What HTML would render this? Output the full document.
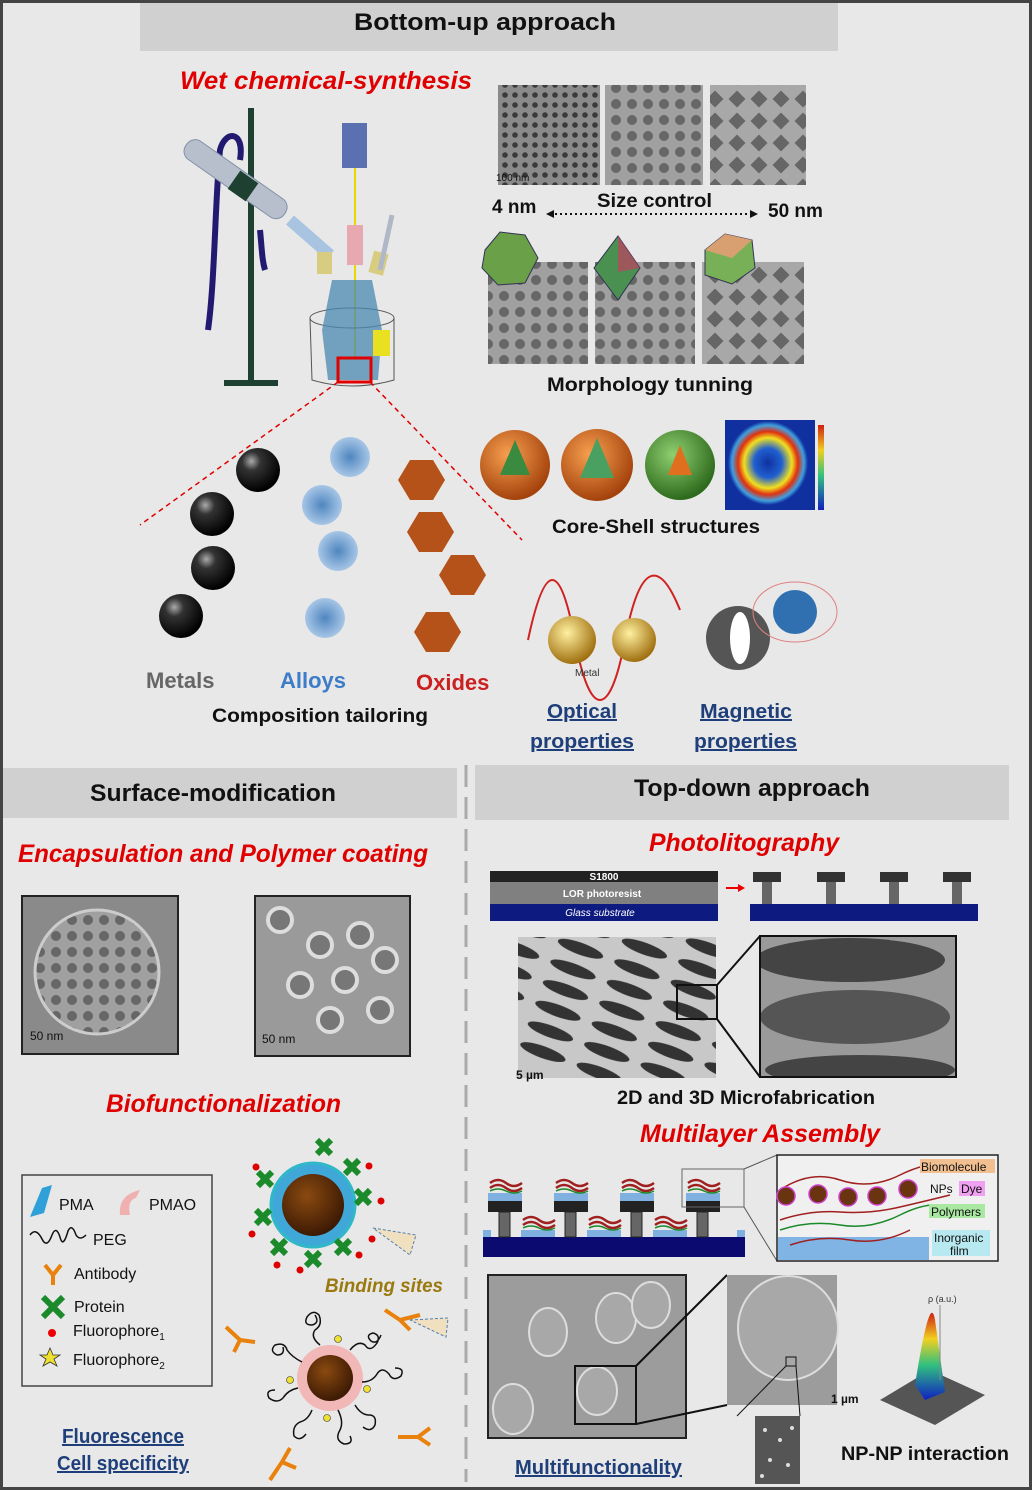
<!DOCTYPE html>
<html><head><meta charset="utf-8"><style>
html,body{margin:0;padding:0;background:#e8e8e8}
svg{display:block}
text{font-family:"Liberation Sans",sans-serif}
.h{font-weight:bold;font-size:24px;fill:#111}
.r{font-weight:bold;font-style:italic;font-size:25px;fill:#e00000}
.b{font-weight:bold;font-size:19px;fill:#111}
.u{font-weight:bold;font-size:20px;fill:#1f3f7a;text-decoration:underline}
.l{font-size:16px;fill:#111}
</style></head><body>
<svg width="1032" height="1490" viewBox="0 0 1032 1490" xmlns="http://www.w3.org/2000/svg">
<defs>
<radialGradient id="blk" cx="35%" cy="30%" r="70%"><stop offset="0" stop-color="#aaa"/><stop offset=".3" stop-color="#333"/><stop offset="1" stop-color="#000"/></radialGradient>
<radialGradient id="blu" cx="50%" cy="50%" r="50%"><stop offset="0" stop-color="#4f86c0"/><stop offset="1" stop-color="#a7c6e6"/></radialGradient>
<radialGradient id="brn" cx="40%" cy="35%" r="65%"><stop offset="0" stop-color="#8a4a10"/><stop offset="1" stop-color="#3d1a04"/></radialGradient>
<radialGradient id="org" cx="40%" cy="35%" r="65%"><stop offset="0" stop-color="#f7a050"/><stop offset="1" stop-color="#a4420c"/></radialGradient>
<radialGradient id="grn" cx="40%" cy="35%" r="65%"><stop offset="0" stop-color="#8fd070"/><stop offset="1" stop-color="#2d6a1c"/></radialGradient>
<radialGradient id="heat" cx="50%" cy="50%" r="50%"><stop offset="0" stop-color="#1030a0"/><stop offset=".35" stop-color="#2060d0"/><stop offset=".6" stop-color="#f0e020"/><stop offset=".75" stop-color="#e03010"/><stop offset=".9" stop-color="#40a0e0"/><stop offset="1" stop-color="#1030a0"/></radialGradient>
<radialGradient id="gold" cx="40%" cy="35%" r="65%"><stop offset="0" stop-color="#fff0a0"/><stop offset="1" stop-color="#a07010"/></radialGradient>
<linearGradient id="peak" x1="0" y1="0" x2="0" y2="1"><stop offset="0" stop-color="#d02010"/><stop offset=".3" stop-color="#f0d020"/><stop offset=".6" stop-color="#30c080"/><stop offset="1" stop-color="#1020c0"/></linearGradient>
<pattern id="tem" width="10" height="10" patternUnits="userSpaceOnUse"><rect width="10" height="10" fill="#8a8a8a"/><circle cx="5" cy="5" r="2.8" fill="#3a3a3a"/></pattern>
<pattern id="tem2" width="16" height="16" patternUnits="userSpaceOnUse"><rect width="16" height="16" fill="#a0a0a0"/><circle cx="8" cy="8" r="5" fill="#666"/></pattern>
<pattern id="tem3" width="22" height="22" patternUnits="userSpaceOnUse"><rect width="22" height="22" fill="#a8a8a8"/><rect x="5" y="5" width="12" height="12" fill="#666" transform="rotate(45 11 11)"/></pattern>
<pattern id="stripe" width="60" height="22" patternUnits="userSpaceOnUse" patternTransform="rotate(20)"><rect width="60" height="22" fill="#c8c8c8"/><ellipse cx="30" cy="11" rx="24" ry="6" fill="#333"/></pattern>
</defs>
<rect x="0" y="0" width="1032" height="1490" fill="#e8e8e8"/>
<rect x="1.5" y="1.5" width="1029" height="1487" fill="none" stroke="#444" stroke-width="3"/>

<rect x="140" y="3" width="698" height="48" fill="#d0d0d0"/>
<text x="485" y="30" class="h" text-anchor="middle" textLength="262" lengthAdjust="spacingAndGlyphs">Bottom-up approach</text>
<text x="180" y="89" class="r" textLength="292" lengthAdjust="spacingAndGlyphs">Wet chemical-synthesis</text>

<rect x="248" y="108" width="6" height="275" fill="#1e4030"/>
<rect x="224" y="380" width="54" height="6" fill="#1e4030"/>
<path d="M208 330 C215 280 215 200 220 150 C225 130 245 130 240 160" fill="none" stroke="#221a70" stroke-width="6"/>
<path d="M260 230 C262 250 262 260 265 270" fill="none" stroke="#221a70" stroke-width="6"/>
<g transform="rotate(35 235 180)"><rect x="175" y="168" width="120" height="22" rx="10" fill="#b8bfcc" stroke="#8090a8"/></g>
<path d="M290 220 L330 255" stroke="#a8c4e0" stroke-width="12"/>
<rect x="232" y="175" width="22" height="22" fill="#1e4030" transform="rotate(35 243 186)"/>
<rect x="342" y="123" width="25" height="45" fill="#5a70b0"/>
<line x1="355" y1="168" x2="355" y2="360" stroke="#e8d800" stroke-width="2"/>
<rect x="347" y="225" width="16" height="40" fill="#e8a8b0"/>
<rect x="317" y="252" width="15" height="22" fill="#d8cc80"/>
<rect x="371" y="252" width="15" height="22" fill="#d8cc80" transform="rotate(15 378 263)"/>
<path d="M380 270 L392 215" stroke="#b0b8c8" stroke-width="5"/>
<ellipse cx="352" cy="318" rx="42" ry="10" fill="none" stroke="#555"/>
<path d="M310 318 L312 380 Q352 392 394 380 L394 318" fill="none" stroke="#555"/>
<path d="M322 330 L332 280 L372 280 L382 330 L378 380 L328 380Z" fill="#4a8ab0" opacity=".75"/>
<rect x="373" y="330" width="17" height="26" fill="#e8e020"/>
<rect x="338" y="358" width="33" height="24" fill="none" stroke="#e00000" stroke-width="3"/>
<line x1="338" y1="382" x2="140" y2="525" stroke="#e00000" stroke-width="1.5" stroke-dasharray="5,4"/>
<line x1="370" y1="382" x2="522" y2="540" stroke="#e00000" stroke-width="1.5" stroke-dasharray="5,4"/>

<rect x="498" y="85" width="102" height="100" fill="url(#tem)"/>
<rect x="605" y="85" width="98" height="100" fill="url(#tem2)"/>
<rect x="710" y="85" width="96" height="100" fill="url(#tem3)"/>
<text x="496" y="181" font-size="10" fill="#111">100 nm</text>
<text x="492" y="213" class="b" font-size="17">4 nm</text>
<text x="597" y="207" class="b" textLength="115" lengthAdjust="spacingAndGlyphs">Size control</text>
<text x="768" y="217" class="b" font-size="17">50 nm</text>
<line x1="550" y1="214" x2="754" y2="214" stroke="#111" stroke-width="2" stroke-dasharray="2,3"/>
<path d="M546 214 l8 -4 v8z M758 214 l-8 -4 v8z" fill="#111"/>

<rect x="488" y="262" width="100" height="102" fill="url(#tem2)"/>
<rect x="595" y="262" width="100" height="102" fill="url(#tem2)"/>
<rect x="702" y="262" width="102" height="102" fill="url(#tem3)"/>
<polygon points="485,250 500,232 525,235 538,258 525,283 498,285 482,268" fill="#6aa048" stroke="#335"/>
<polygon points="618,236 640,268 618,300 594,268" fill="#4a9050" stroke="#335"/>
<polygon points="618,236 640,268 618,272" fill="#c04060" opacity=".7"/>
<polygon points="705,250 725,234 752,240 755,268 732,284 705,275" fill="#78b058" stroke="#335"/>
<polygon points="725,234 752,240 732,258 705,250" fill="#d8a070"/>
<text x="547" y="391" class="b" textLength="206" lengthAdjust="spacingAndGlyphs">Morphology tunning</text>

<circle cx="515" cy="465" r="35" fill="url(#org)"/><polygon points="515,440 500,475 530,475" fill="#3a8a40"/>
<circle cx="597" cy="465" r="36" fill="url(#org)"/><polygon points="597,438 580,478 614,478" fill="#4aa060"/>
<circle cx="680" cy="465" r="35" fill="url(#grn)"/><polygon points="680,445 668,475 692,475" fill="#e07020"/>
<rect x="725" y="420" width="90" height="90" fill="#1030a0"/>
<ellipse cx="768" cy="463" rx="40" ry="42" fill="url(#heat)"/>
<rect x="818" y="425" width="6" height="85" fill="url(#peak)"/>
<text x="552" y="533" class="b" textLength="208" lengthAdjust="spacingAndGlyphs">Core-Shell structures</text>

<g fill="url(#blk)"><circle cx="258" cy="470" r="22"/><circle cx="212" cy="514" r="22"/><circle cx="213" cy="568" r="22"/><circle cx="181" cy="616" r="22"/></g>
<g fill="url(#blu)"><circle cx="350" cy="457" r="20"/><circle cx="322" cy="505" r="20"/><circle cx="338" cy="551" r="20"/><circle cx="325" cy="618" r="20"/></g>
<g fill="#b4521a">
<polygon points="398,480 410,460 433,460 445,480 433,500 410,500"/>
<polygon points="407,532 419,512 442,512 454,532 442,552 419,552"/>
<polygon points="439,575 451,555 474,555 486,575 474,595 451,595"/>
<polygon points="414,632 426,612 449,612 461,632 449,652 426,652"/>
</g>
<text x="146" y="688" font-size="22" font-weight="bold" fill="#666">Metals</text>
<text x="280" y="688" font-size="22" font-weight="bold" fill="#3d7cc9">Alloys</text>
<text x="416" y="690" font-size="22" font-weight="bold" fill="#cc1f1f">Oxides</text>
<text x="212" y="722" class="b" textLength="216" lengthAdjust="spacingAndGlyphs">Composition tailoring</text>

<path d="M528 640 C545 560 560 560 575 640 S 610 720 625 640 S 660 560 680 610" fill="none" stroke="#d02020" stroke-width="2"/>
<circle cx="572" cy="640" r="24" fill="url(#gold)"/><circle cx="634" cy="640" r="22" fill="url(#gold)"/>
<text x="575" y="676" font-size="10" fill="#333">Metal</text>
<circle cx="738" cy="638" r="32" fill="#555"/><ellipse cx="740" cy="638" rx="10" ry="26" fill="#fff"/>
<circle cx="795" cy="612" r="22" fill="#3070b0"/><ellipse cx="795" cy="612" rx="42" ry="30" fill="none" stroke="#e08080"/>
<text x="547" y="718" class="u" textLength="70" lengthAdjust="spacingAndGlyphs">Optical</text>
<text x="530" y="748" class="u" textLength="104" lengthAdjust="spacingAndGlyphs">properties</text>
<text x="700" y="718" class="u" textLength="92" lengthAdjust="spacingAndGlyphs">Magnetic</text>
<text x="694" y="748" class="u" textLength="103" lengthAdjust="spacingAndGlyphs">properties</text>

<rect x="3" y="768" width="454" height="50" fill="#d0d0d0"/>
<text x="213" y="801" class="h" text-anchor="middle" textLength="246" lengthAdjust="spacingAndGlyphs">Surface-modification</text>
<rect x="475" y="765" width="534" height="55" fill="#d0d0d0"/>
<text x="752" y="796" class="h" text-anchor="middle" textLength="236" lengthAdjust="spacingAndGlyphs">Top-down approach</text>
<line x1="466" y1="765" x2="466" y2="1482" stroke="#aaa" stroke-width="3" stroke-dasharray="22,10"/>

<text x="18" y="862" class="r" textLength="410" lengthAdjust="spacingAndGlyphs">Encapsulation and Polymer coating</text>
<rect x="22" y="896" width="156" height="158" fill="#8a8a8a" stroke="#222" stroke-width="2"/>
<circle cx="97" cy="972" r="62" fill="url(#tem2)" stroke="#ccc" stroke-width="3"/>
<text x="30" y="1040" font-size="12" fill="#111">50 nm</text>
<rect x="255" y="896" width="155" height="160" fill="#9a9a9a" stroke="#222" stroke-width="2"/>
<g fill="#777" stroke="#ddd" stroke-width="4"><circle cx="280" cy="920" r="12"/><circle cx="320" cy="945" r="12"/><circle cx="360" cy="935" r="12"/><circle cx="300" cy="985" r="12"/><circle cx="345" cy="980" r="12"/><circle cx="385" cy="960" r="12"/><circle cx="330" cy="1020" r="12"/><circle cx="380" cy="1010" r="12"/></g>
<text x="262" y="1043" font-size="12" fill="#111">50 nm</text>
<text x="106" y="1112" class="r" textLength="235" lengthAdjust="spacingAndGlyphs">Biofunctionalization</text>

<rect x="22" y="1175" width="190" height="211" fill="none" stroke="#444" stroke-width="1.5"/>
<path d="M30 1217 L42 1188 L52 1185 L44 1213Z" fill="#30a0d8"/>
<text x="59" y="1210" class="l">PMA</text>
<path d="M120 1215 Q118 1195 140 1190 L136 1198 Q127 1200 130 1215Z" fill="#f0b0b0"/>
<text x="149" y="1210" class="l">PMAO</text>
<path d="M30 1235 q6 -8 12 4 q5 10 10 -4 q4 -10 8 2 q3 12 8 -6 q4 -8 8 4 q4 6 10 0" fill="none" stroke="#111" stroke-width="1.5"/>
<text x="93" y="1245" class="l">PEG</text>
<path d="M45 1265 L53 1275 L61 1265 M53 1275 L53 1285" stroke="#e8820c" stroke-width="4" fill="none"/>
<text x="74" y="1279" class="l">Antibody</text>
<path d="M43 1297 L63 1317 M63 1297 L43 1317" stroke="#1a8a2a" stroke-width="6"/>
<text x="74" y="1312" class="l">Protein</text>
<circle cx="52" cy="1333" r="4" fill="#e00"/>
<text x="73" y="1336" class="l">Fluorophore<tspan font-size="10" dy="4">1</tspan></text>
<polygon points="50,1348 53,1355 60,1355 54,1359 57,1366 50,1362 43,1366 46,1359 40,1355 47,1355" fill="#f0e030" stroke="#333" stroke-width=".8"/>
<text x="73" y="1365" class="l">Fluorophore<tspan font-size="10" dy="4">2</tspan></text>
<text x="62" y="1443" class="u" textLength="122" lengthAdjust="spacingAndGlyphs">Fluorescence</text>
<text x="57" y="1470" class="u" textLength="132" lengthAdjust="spacingAndGlyphs">Cell specificity</text>

<circle cx="313" cy="1205" r="42" fill="#40a8d8" stroke="#30b8c8" stroke-width="3"/>
<circle cx="313" cy="1205" r="31" fill="url(#brn)"/>
<g stroke="#1a8a2a" stroke-width="6">
<path d="M258 1172 l14 14 M272 1172 l-14 14"/><path d="M317 1140 l14 14 M331 1140 l-14 14"/><path d="M345 1160 l14 14 M359 1160 l-14 14"/>
<path d="M356 1190 l14 14 M370 1190 l-14 14"/><path d="M256 1210 l14 14 M270 1210 l-14 14"/><path d="M272 1240 l14 14 M286 1240 l-14 14"/>
<path d="M306 1252 l14 14 M320 1252 l-14 14"/><path d="M336 1240 l14 14 M350 1240 l-14 14"/></g>
<g fill="#d00"><circle cx="256" cy="1167" r="3.5"/><circle cx="369" cy="1166" r="3.5"/><circle cx="381" cy="1201" r="3.5"/><circle cx="372" cy="1239" r="3.5"/><circle cx="252" cy="1234" r="3.5"/><circle cx="359" cy="1255" r="3.5"/><circle cx="277" cy="1265" r="3.5"/><circle cx="300" cy="1270" r="3.5"/></g>
<polygon points="373,1228 416,1235 410,1255" fill="#f0e0c0" stroke="#5080b0" stroke-dasharray="3,2"/>
<text x="325" y="1292" font-size="19" font-weight="bold" font-style="italic" fill="#9a7a10" textLength="118" lengthAdjust="spacingAndGlyphs">Binding sites</text>

<circle cx="330" cy="1378" r="33" fill="#f2b8b8"/>
<circle cx="330" cy="1378" r="23" fill="url(#brn)"/>
<g fill="none" stroke="#111" stroke-width="1.5">
<path d="M320 1345 q-10 -8 -5 -15 q8 -5 4 -15 q-6 -6 -12 2 q-4 8 5 8 q8 -2 3 -10"/>
<path d="M350 1350 q8 -10 15 -5 q5 8 12 -2 q4 -8 -4 -10 q-8 2 -2 8 q6 4 10 -6"/>
<path d="M302 1362 q-10 -5 -15 -12 q-2 -8 -12 -5 q-6 6 2 10 q8 0 6 -8"/>
<path d="M362 1382 q10 0 15 -8 q5 -8 12 0 q4 8 12 2 q4 -8 -6 -8"/>
<path d="M298 1388 q-10 2 -15 10 q-6 6 -14 0 q-4 -8 6 -8"/>
<path d="M355 1405 q6 10 14 10 q8 0 6 10 q-4 8 -12 2"/>
<path d="M312 1410 q-4 10 -12 12 q-8 4 -6 14 q6 6 12 -2"/>
<path d="M338 1410 q6 12 2 20 q-6 10 4 14 q10 0 6 -8"/>
</g>
<g stroke="#e8820c" stroke-width="4" fill="none">
<path d="M226 1327 L240 1340 L234 1352 M240 1340 L255 1342"/>
<path d="M385 1310 L400 1320 L420 1315 M400 1320 L410 1330"/>
<path d="M398 1437 L418 1437 L430 1428 M418 1437 L430 1445"/>
<path d="M270 1480 L282 1462 L290 1448 M282 1462 L296 1468"/>
</g>
<polygon points="410,1320 448,1318 446,1337" fill="#f0e0c0" stroke="#5080b0" stroke-dasharray="3,2"/>
<g fill="#f0e030" stroke="#333" stroke-width=".6"><circle cx="338" cy="1339" r="3.5"/><circle cx="290" cy="1380" r="3.5"/><circle cx="367" cy="1389" r="3.5"/><circle cx="327" cy="1418" r="3.5"/></g>

<text x="649" y="851" class="r" textLength="190" lengthAdjust="spacingAndGlyphs">Photolitography</text>
<rect x="490" y="871" width="228" height="11" fill="#222"/>
<text x="604" y="880" font-size="10" fill="#fff" font-weight="bold" text-anchor="middle">S1800</text>
<rect x="490" y="882" width="228" height="22" fill="#808080"/>
<text x="602" y="897" font-size="10" fill="#fff" font-weight="bold" text-anchor="middle">LOR photoresist</text>
<rect x="490" y="904" width="228" height="17" fill="#0d1a80"/>
<text x="600" y="916" font-size="10" fill="#fff" font-style="italic" text-anchor="middle">Glass substrate</text>
<path d="M726 888 h14" stroke="#e00" stroke-width="2"/><path d="M745 888 l-7 -4 v8z" fill="#e00"/>
<rect x="750" y="904" width="228" height="17" fill="#0d1a80"/>
<g fill="#333"><rect x="753" y="872" width="28" height="10"/><rect x="762" y="882" width="10" height="22" fill="#666"/>
<rect x="817" y="872" width="28" height="10"/><rect x="826" y="882" width="10" height="22" fill="#666"/>
<rect x="880" y="872" width="28" height="10"/><rect x="889" y="882" width="10" height="22" fill="#666"/>
<rect x="943" y="872" width="28" height="10"/><rect x="952" y="882" width="10" height="22" fill="#666"/></g>
<rect x="518" y="937" width="198" height="141" fill="url(#stripe)"/>
<rect x="518" y="1062" width="45" height="16" fill="#c8c8c8"/><text x="516" y="1079" font-size="12" fill="#111" font-weight="bold">5 µm</text>
<rect x="677" y="985" width="40" height="34" fill="none" stroke="#111" stroke-width="2"/>
<line x1="717" y1="985" x2="760" y2="936" stroke="#111" stroke-width="2"/>
<line x1="717" y1="1019" x2="760" y2="1077" stroke="#111" stroke-width="2"/>
<svg x="760" y="936" width="196" height="141"><rect width="196" height="141" fill="#9a9a9a"/>
<ellipse cx="90" cy="24" rx="95" ry="22" fill="#444"/>
<ellipse cx="95" cy="81" rx="95" ry="27" fill="#555"/>
<ellipse cx="100" cy="134" rx="95" ry="15" fill="#444"/></svg>
<rect x="760" y="936" width="196" height="141" fill="none" stroke="#111" stroke-width="2"/>
<text x="617" y="1104" class="b" textLength="258" lengthAdjust="spacingAndGlyphs">2D and 3D Microfabrication</text>

<text x="640" y="1142" class="r" textLength="240" lengthAdjust="spacingAndGlyphs">Multilayer Assembly</text>
<rect x="483" y="1237" width="262" height="20" fill="#0a0a70"/>
<g fill="#80b0e0"><rect x="483" y="1230" width="8" height="7"/><rect x="521" y="1230" width="34" height="7"/><rect x="587" y="1230" width="34" height="7"/><rect x="653" y="1230" width="34" height="7"/><rect x="737" y="1230" width="8" height="7"/>
<rect x="488" y="1193" width="34" height="8"/><rect x="554" y="1193" width="34" height="8"/><rect x="620" y="1193" width="34" height="8"/><rect x="686" y="1193" width="34" height="8"/></g>
<g fill="#222"><rect x="488" y="1201" width="34" height="11"/><rect x="554" y="1201" width="34" height="11"/><rect x="620" y="1201" width="34" height="11"/><rect x="686" y="1201" width="34" height="11"/></g>
<g fill="#666" stroke="#222"><rect x="499" y="1212" width="11" height="25"/><rect x="565" y="1212" width="11" height="25"/><rect x="631" y="1212" width="11" height="25"/><rect x="697" y="1212" width="11" height="25"/></g>
<g fill="none" stroke="#a02020" stroke-width="2.5">
<path d="M490 1183 q8 -6 16 0 t16 0 M490 1188 q8 -6 16 0 t16 0"/><path d="M556 1183 q8 -6 16 0 t16 0 M556 1188 q8 -6 16 0 t16 0"/><path d="M622 1183 q8 -6 16 0 t16 0 M622 1188 q8 -6 16 0 t16 0"/><path d="M688 1183 q8 -6 16 0 t16 0 M688 1188 q8 -6 16 0 t16 0"/>
<path d="M523 1220 q8 -6 16 0 t16 0 M523 1225 q8 -6 16 0 t16 0"/><path d="M589 1220 q8 -6 16 0 t16 0 M589 1225 q8 -6 16 0 t16 0"/><path d="M655 1220 q8 -6 16 0 t16 0 M655 1225 q8 -6 16 0 t16 0"/></g>
<g fill="none" stroke="#1a8a2a" stroke-width="1.5">
<path d="M490 1191 q8 -4 16 0 t16 0"/><path d="M556 1191 q8 -4 16 0 t16 0"/><path d="M622 1191 q8 -4 16 0 t16 0"/><path d="M688 1191 q8 -4 16 0 t16 0"/>
<path d="M523 1228 q8 -4 16 0 t16 0"/><path d="M589 1228 q8 -4 16 0 t16 0"/><path d="M655 1228 q8 -4 16 0 t16 0"/></g>
<rect x="682" y="1169" width="62" height="38" fill="none" stroke="#666"/>
<line x1="744" y1="1169" x2="777" y2="1155" stroke="#555"/><line x1="744" y1="1207" x2="777" y2="1261" stroke="#555"/>
<rect x="777" y="1155" width="221" height="106" fill="#f0f0f0" stroke="#222" stroke-width="1.5"/>
<rect x="778" y="1237" width="151" height="23" fill="#80b4e4"/>
<g fill="none" stroke="#a02020" stroke-width="1.5"><path d="M780 1190 q30 -20 60 -10 t60 -5 t60 -12"/><path d="M780 1220 q30 -10 60 -8 t60 -5 t50 -12"/><path d="M790 1245 q30 -10 60 -5 t60 -10"/></g>
<path d="M780 1230 q30 -10 60 -5 t60 -10 t50 -8" fill="none" stroke="#1a8a2a" stroke-width="1.5"/>
<g fill="#6a3410" stroke="#d040d0" stroke-width="1.5"><circle cx="786" cy="1196" r="9"/><circle cx="818" cy="1194" r="9"/><circle cx="848" cy="1197" r="9"/><circle cx="877" cy="1196" r="9"/><circle cx="908" cy="1189" r="9"/></g>
<rect x="920" y="1159" width="75" height="14" fill="#f2c090"/>
<text x="921" y="1171" font-size="12" fill="#111">Biomolecule</text>
<text x="930" y="1193" font-size="12" fill="#111">NPs</text>
<rect x="959" y="1181" width="26" height="15" fill="#f0a0f0"/><text x="961" y="1193" font-size="12" fill="#111">Dye</text>
<rect x="929" y="1204" width="56" height="14" fill="#a8e8a0"/><text x="931" y="1216" font-size="12" fill="#111">Polymers</text>
<rect x="932" y="1230" width="58" height="26" fill="#b8e8f0"/>
<text x="934" y="1242" font-size="12" fill="#111">Inorganic</text><text x="950" y="1255" font-size="12" fill="#111">film</text>

<rect x="488" y="1275" width="198" height="163" fill="#9c9c9c" stroke="#222" stroke-width="2"/>
<g fill="#a8a8a8" stroke="#ddd" stroke-width="2"><ellipse cx="548" cy="1332" rx="19" ry="24"/><ellipse cx="616" cy="1318" rx="20" ry="25"/><ellipse cx="651" cy="1305" rx="19" ry="23"/><ellipse cx="597" cy="1391" rx="20" ry="24"/><ellipse cx="513" cy="1409" rx="20" ry="25"/></g>
<rect x="575" y="1366" width="61" height="58" fill="none" stroke="#111" stroke-width="2"/>
<line x1="636" y1="1366" x2="727" y2="1275" stroke="#111" stroke-width="2"/><line x1="636" y1="1424" x2="727" y2="1405" stroke="#111" stroke-width="2"/>
<rect x="727" y="1275" width="110" height="130" fill="#9c9c9c"/>
<ellipse cx="788" cy="1328" rx="50" ry="52" fill="#a8a8a8" stroke="#ddd" stroke-width="2"/>
<rect x="786" y="1357" width="10" height="9" fill="none" stroke="#111"/>
<line x1="786" y1="1366" x2="737" y2="1416" stroke="#111"/><line x1="796" y1="1366" x2="800" y2="1416" stroke="#111"/>
<text x="831" y="1403" font-size="12" fill="#111" font-weight="bold">1 µm</text>
<rect x="755" y="1416" width="45" height="68" fill="#555"/>
<g fill="#ddd"><circle cx="765" cy="1430" r="2"/><circle cx="780" cy="1440" r="2"/><circle cx="792" cy="1428" r="2"/><circle cx="770" cy="1460" r="2"/><circle cx="788" cy="1465" r="2"/><circle cx="762" cy="1476" r="2"/></g>
<polygon points="880,1400 930,1370 985,1395 935,1425" fill="#555"/>
<path d="M915 1385 Q930 1290 935 1320 L945 1392 L925 1400Z" fill="url(#peak)"/>
<line x1="940" y1="1305" x2="940" y2="1380" stroke="#888"/>
<text x="928" y="1302" font-size="9" fill="#333">ρ (a.u.)</text>
<text x="841" y="1460" class="b" textLength="168" lengthAdjust="spacingAndGlyphs">NP-NP interaction</text>
<text x="515" y="1474" class="u" textLength="167" lengthAdjust="spacingAndGlyphs">Multifunctionality</text>
</svg>
</body></html>
